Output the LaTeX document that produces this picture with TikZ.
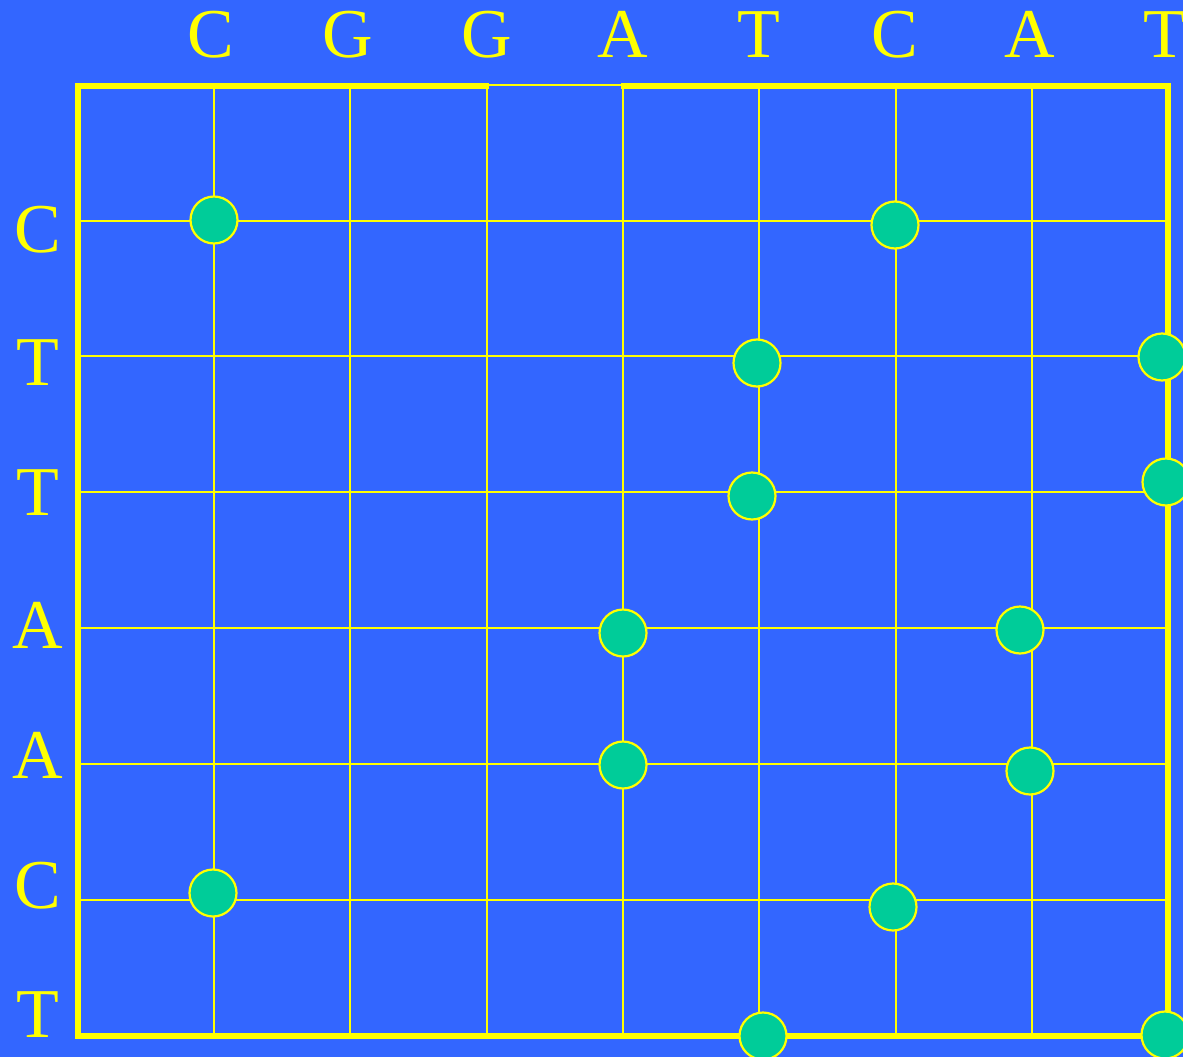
\documentclass[tikz,border=0pt]{standalone}
\usepackage{fontspec}
\setmainfont{Liberation Serif}
\definecolor{bg}{HTML}{3366FF}
\definecolor{dot}{HTML}{00CC99}
\definecolor{yel}{HTML}{FFFF00}
\tikzset{
  grid line/.style={draw=yel, line width=2.9pt},
  frame line/.style={draw=yel, line width=6.8pt},
  letter/.style={text=yel, font=\fontsize{70}{70}\selectfont, anchor=base, inner sep=0pt},
  dotnode/.style={circle, fill=dot, draw=yel, line width=2.2pt, minimum size=47pt, inner sep=0pt},
}
\begin{document}
\begin{tikzpicture}[x=1pt,y=-1pt]
\useasboundingbox (0,0) rectangle (1183,1057);
\fill[bg] (0,0) rectangle (1183,1057);
% inner grid
\foreach \x in {214,350,487,623,759,896,1032} \draw[grid line] (\x,86) -- (\x,1036);
\foreach \y in {221,356,492,628,764,900} \draw[grid line] (78,\y) -- (1168,\y);
% frame
\draw[frame line] (489,86) -- (78,86) -- (78,1036) -- (1168,1036) -- (1168,86) -- (621,86);
\draw[grid line] (487,85) -- (623,85);
% top letters
\foreach \t/\x [count=\i] in {C/211,G/348,G/487,A/623,T/759,C/895,A/1030,T/1165}
  \node[letter] (top\i) at (\x,58) {\t};
% left letters
\foreach \t/\y [count=\i] in {C/252,T/385,T/515,A/648,A/778,C/908,T/1037}
  \node[letter] (left\i) at (38,\y) {\t};
% dots
\foreach \x/\y [count=\i] in {214/220,895/225,757/363,1162/357,752/496,1166/482,623/633,1020/630,623/765,1030/771,213/893,893/907,763/1036,1165/1035}
  \node[dotnode] (d\i) at (\x,\y) {};
\end{tikzpicture}
\end{document}
